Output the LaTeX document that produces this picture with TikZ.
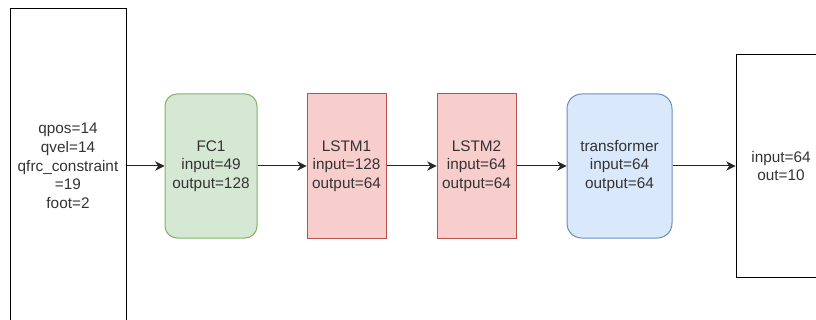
\documentclass[tikz,border=0pt]{standalone}
\usepackage{fontspec}
\setmainfont{Liberation Sans}
\usepackage{xcolor}
\usetikzlibrary{arrows.meta,positioning}

\definecolor{fcfill}{HTML}{D5E8D4}
\definecolor{fcline}{HTML}{82B366}
\definecolor{lstmfill}{HTML}{F8CECC}
\definecolor{lstmline}{HTML}{B85450}
\definecolor{trfill}{HTML}{DAE8FC}
\definecolor{trline}{HTML}{6C8EBF}
\definecolor{txt}{HTML}{333333}

\tikzset{
	layer/.style={draw,align=center,text=txt,inner sep=0pt,line width=0.75pt,
		font=\fontsize{11.5}{14}\selectfont},
	flow/.style={-{Stealth[length=7pt,width=7pt]},line width=0.75pt,draw=black!85}
}

\begin{document}
\begin{tikzpicture}[x=0.75pt,y=-0.75pt]
	\useasboundingbox (0,0) rectangle (816,320);
	\clip (0,0) rectangle (816,320);

	\node[layer,minimum width=116*0.75pt,minimum height=314*0.75pt] (obs) at (68,166)
		{qpos=14\\qvel=14\\qfrc\_constraint\\=19\\foot=2};
	\node[layer,fill=fcfill,draw=fcline,rounded corners=9pt,minimum width=92*0.75pt,minimum height=144*0.75pt] (fc1) at (211,166)
		{FC1\\input=49\\output=128};
	\node[layer,fill=lstmfill,draw=lstmline,minimum width=79*0.75pt,minimum height=144*0.75pt] (lstm1) at (346.5,166)
		{LSTM1\\input=128\\output=64};
	\node[layer,fill=lstmfill,draw=lstmline,minimum width=79*0.75pt,minimum height=144*0.75pt] (lstm2) at (476.5,166)
		{LSTM2\\input=64\\output=64};
	\node[layer,fill=trfill,draw=trline,rounded corners=11pt,minimum width=105*0.75pt,minimum height=144*0.75pt] (trans) at (619.5,166)
		{transformer\\input=64\\output=64};
	\node[layer,minimum width=90*0.75pt,minimum height=222*0.75pt] (head) at (781,166)
		{input=64\\out=10};

	\foreach \a/\b in {obs/fc1,fc1/lstm1,lstm1/lstm2,lstm2/trans,trans/head}
		\draw[flow] (\a.east) -- (\b.west);
\end{tikzpicture}
\end{document}
